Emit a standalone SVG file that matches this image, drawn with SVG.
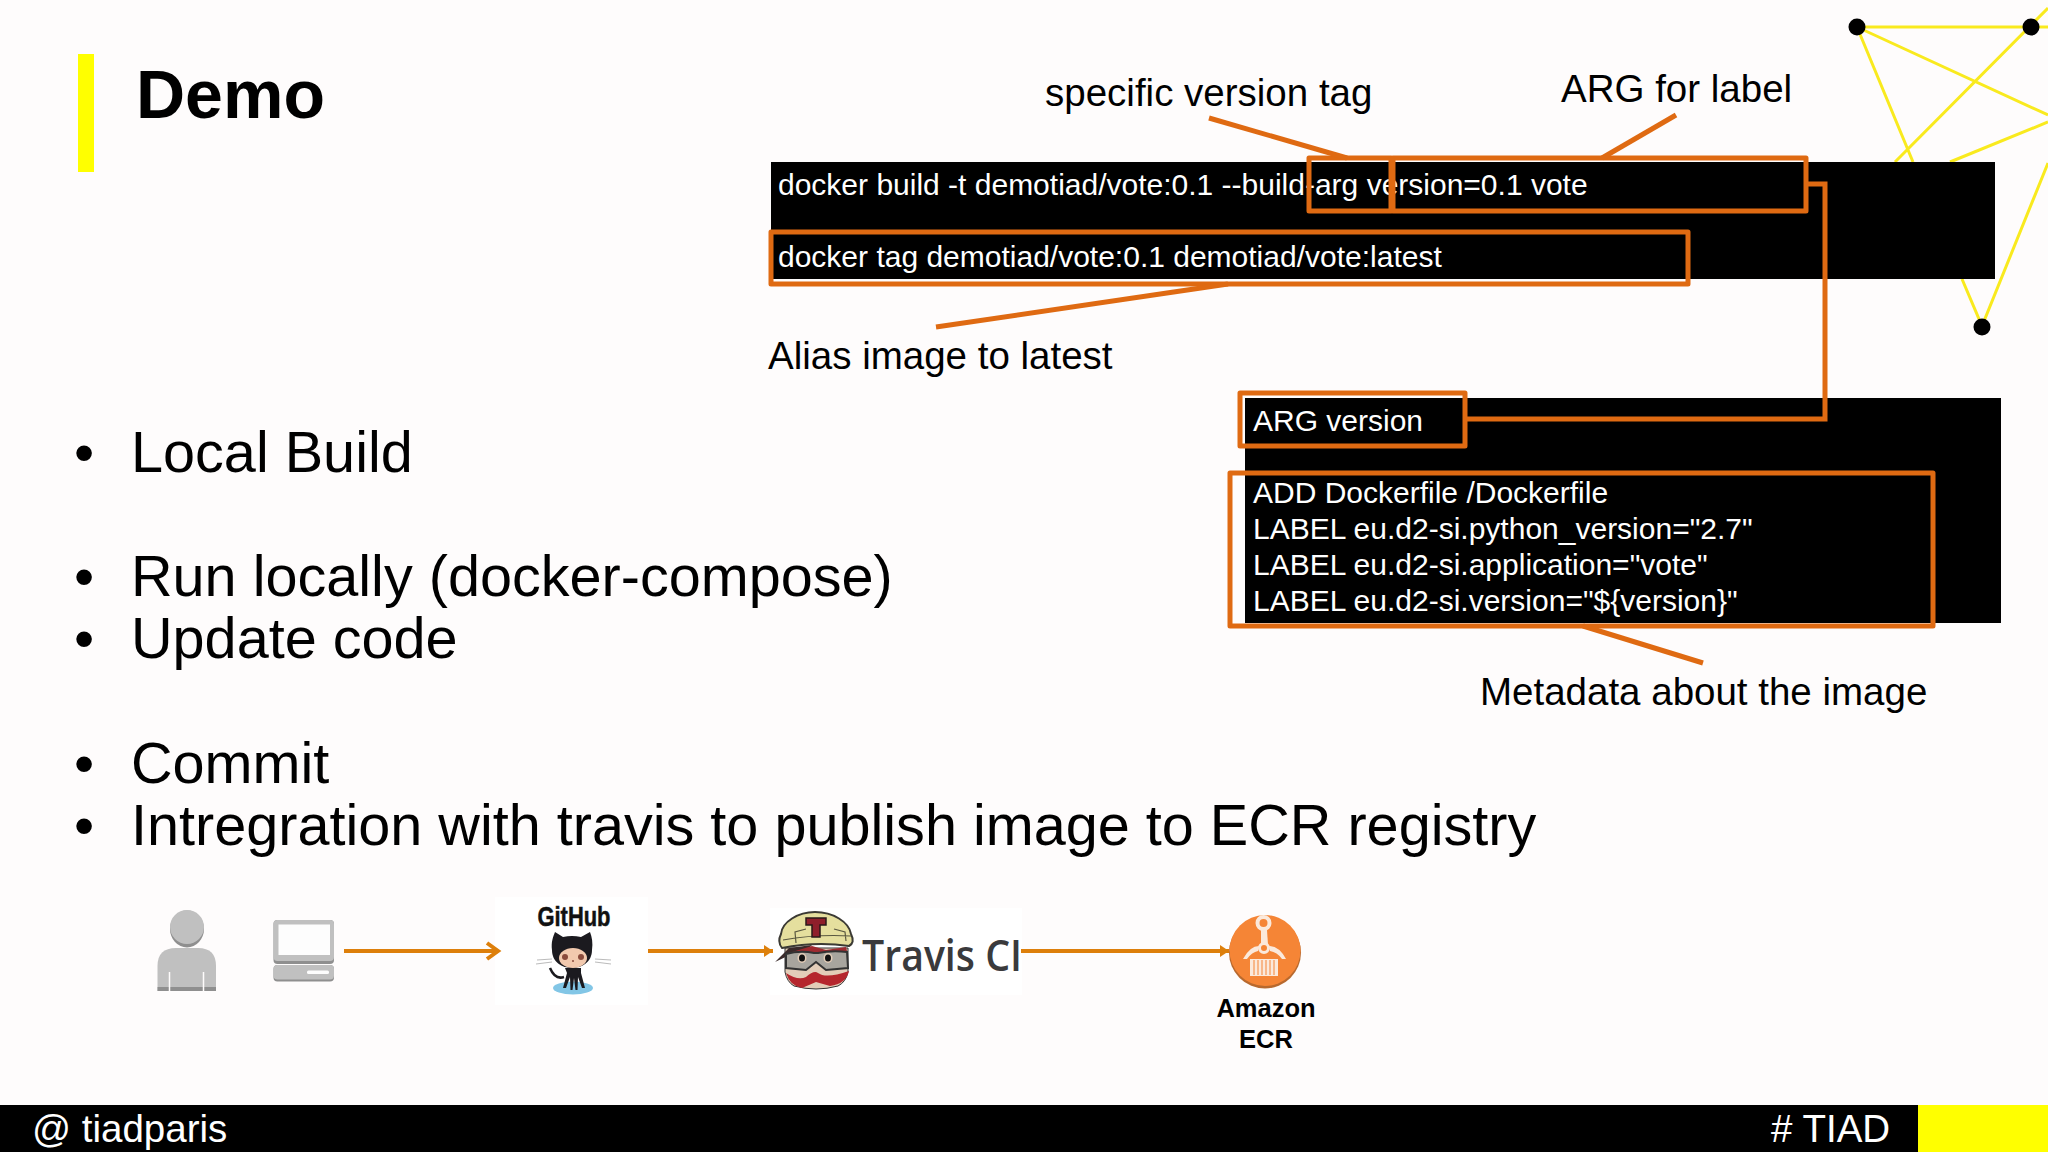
<svg xmlns="http://www.w3.org/2000/svg" width="2048" height="1152" viewBox="0 0 2048 1152">
<defs>
<style>
text{font-family:"Liberation Sans",Arial,sans-serif}
.t{font-size:38.500px;fill:#000}
.c{font-size:30px;fill:#fff}
.b{font-size:57.600px;fill:#000}
.f{font-size:38.500px;fill:#fff}
.box{fill:none;stroke:#df6a12;stroke-width:5;stroke-linejoin:round}
.lead{fill:none;stroke:#df6a12;stroke-width:5}
.y{stroke:#f9ea1e;stroke-width:3;fill:none}
.flow{stroke:#dd7f0b;stroke-width:4;fill:none}
.grey{fill:#c0c0c0}
.dgrey{fill:#8f8f8f}
</style>
<marker id="open" markerUnits="userSpaceOnUse" markerWidth="20" markerHeight="22" refX="14" refY="10" orient="auto"><path d="M3 2L14 10L3 18" fill="none" stroke="#dd7f0b" stroke-width="4"/></marker>
<marker id="solid" markerUnits="userSpaceOnUse" markerWidth="10" markerHeight="14" refX="9" refY="6" orient="auto"><path d="M0 0L9 6L0 12Z" fill="#dd7f0b"/></marker>
</defs>
<rect width="2048" height="1152" fill="#fefcfc"/>

<g id="network">
<path class="y" d="M1857 27H2048M1857 27L2048 115M1857 27L1913 162M1895 162L2048 8M1950 162L2048 122M1962 279L1982 326L2048 163"/>
<circle cx="1857" cy="27" r="8.500"/><circle cx="2031" cy="27" r="8.500"/><circle cx="1982" cy="327" r="8.500"/>
</g>

<g id="title">
<rect x="78" y="54" width="16" height="118" fill="#ffff00"/>
<text x="136" y="118" font-size="68" font-weight="700" fill="#000">Demo</text>
</g>

<g id="bullets">
<text class="b" x="74" y="472">•</text><text class="b" x="131" y="472">Local Build</text>
<text class="b" x="74" y="596">•</text><text class="b" x="131" y="596">Run locally (docker-compose)</text>
<text class="b" x="74" y="658">•</text><text class="b" x="131" y="658">Update code</text>
<text class="b" x="74" y="783">•</text><text class="b" x="131" y="783">Commit</text>
<text class="b" x="74" y="845">•</text><text class="b" x="131" y="845">Intregration with travis to publish image to ECR registry</text>
</g>

<g id="build-commands">
<rect x="771" y="162" width="1224" height="117" fill="#000"/>
<text class="c" x="778" y="195">docker build -t demotiad/vote:0.1 --build-arg version=0.1 vote</text>
<text class="c" x="778" y="267">docker tag demotiad/vote:0.1 demotiad/vote:latest</text>
</g>

<g id="dockerfile">
<rect x="1245" y="398" width="756" height="225" fill="#000"/>
<text class="c" x="1253" y="431">ARG version</text>
<text class="c" x="1253" y="503">ADD Dockerfile /Dockerfile</text>
<text class="c" x="1253" y="539">LABEL eu.d2-si.python_version="2.7"</text>
<text class="c" x="1253" y="575">LABEL eu.d2-si.application="vote"</text>
<text class="c" x="1253" y="611">LABEL eu.d2-si.version="${version}"</text>
</g>

<g id="highlights">
<rect class="box" x="1309" y="158" width="82" height="53"/>
<rect class="box" x="1393" y="158" width="413" height="53"/>
<rect class="box" x="771" y="232" width="917" height="52"/>
<rect class="box" x="1240" y="393" width="225" height="53"/>
<rect class="box" x="1230" y="473" width="703" height="153"/>
</g>

<g id="annotations">
<text class="t" x="1045" y="106">specific version tag</text>
<text class="t" x="1561" y="102">ARG for label</text>
<text class="t" x="768" y="369">Alias image to latest</text>
<text class="t" x="1480" y="705">Metadata about the image</text>
</g>

<g id="user">
<ellipse class="dgrey" cx="187" cy="929" rx="17" ry="18.500"/>
<ellipse class="grey" cx="187" cy="927" rx="17" ry="17"/>
<path class="grey" d="M157.500 991V966Q157.500 948 176 948H198Q216 948 216 966V991Z"/>
<rect class="dgrey" x="157.500" y="987" width="58.500" height="4"/>
<path d="M169.500 972v19M203.500 972v19" stroke="#fefcfc" stroke-width="1.500"/>
</g>

<g id="computer">
<rect class="dgrey" x="273.500" y="920" width="60.500" height="44" rx="4"/>
<rect class="grey" x="273.500" y="920" width="60.500" height="41" rx="4"/>
<rect x="278.500" y="924.500" width="51.500" height="30.500" fill="#fdfdfd"/>
<rect class="dgrey" x="273.500" y="965" width="60.500" height="16.500" rx="4"/>
<rect class="grey" x="273.500" y="965" width="60.500" height="14.500" rx="4"/>
<rect x="307" y="970.500" width="22" height="3.500" rx="1.500" fill="#fdfdfd"/>
</g>

<g id="github">
<rect x="495" y="897" width="153" height="108" fill="#fff"/>
<text x="574" y="926" font-size="27" font-weight="700" text-anchor="middle" textLength="73" lengthAdjust="spacingAndGlyphs" fill="#111" stroke="#111" stroke-width=".5">GitHub</text>
<ellipse cx="573" cy="988" rx="20" ry="6.500" fill="#82c6e6"/>
<path d="M537 960L552 959M536 964L552 962M595 959L611 960M595 962L611 964" stroke="#bbb" stroke-width="1"/>
<path d="M550 968Q555 980 564 977" stroke="#1b1a1f" stroke-width="2.500" fill="none"/>
<path d="M552 950C551 942 553 937 555 932L563 937Q572 935 581 937L590 932C592 937 593 943 592 950C592 962 582 968 572 968C562 968 552 962 552 950Z" fill="#1b1a1f"/>
<ellipse cx="573" cy="958" rx="14" ry="10" fill="#f2c9ae"/>
<circle cx="565" cy="957" r="3" fill="#8a4b3c"/><circle cx="581" cy="957" r="3" fill="#8a4b3c"/>
<circle cx="573" cy="961" r="1" fill="#8a4b3c"/>
<path d="M565 968h16v5l4 15h-3l-4-11-.5 13h-2l-1.500-12-1.500 12h-2l-.5-13-4 11h-3l4-15Z" fill="#1b1a1f"/>
</g>

<g id="travis">
<rect x="770" y="908" width="252" height="87" fill="#fff"/>
<path d="M785 948H848V972Q846 982 838 986Q816 992 794 986Q787 982 785 972Z" fill="#e3cdb8" stroke="#333" stroke-width="1"/>
<path d="M782 948C778 943 779 938 781 934C782 922 798 912 815 912C833 912 849 922 851 934C854 940 853 944 849 946Q816 941 782 948Z" fill="#e5df9e" stroke="#3b3a34" stroke-width="2"/>
<path d="M796 943L795 932L806 929M834 929L845 932L846 941M783 940Q816 934 851 936" fill="none" stroke="#5a5840" stroke-width="1.200"/>
<path d="M806 918H826V925H820V937H812V925H806Z" fill="#8f1f2b" stroke="#2a1a1a" stroke-width="1.500"/>
<path d="M775 962L789 948L812 945L806 951L794 953Z" fill="#3a2a2a"/>
<path d="M792 952L812 946L826 950L846 947L847 951L815 953Z" fill="#9e2a30"/>
<path d="M786 954Q800 950 814 953L818 953Q832 950 847 952L848 968L826 970L816 962L806 970L786 968Z" fill="#a8a59e" stroke="#333" stroke-width="2"/>
<ellipse cx="802" cy="958" rx="4.500" ry="5" fill="#e3cdb8"/><ellipse cx="828" cy="958" rx="4.500" ry="5" fill="#e3cdb8"/>
<ellipse cx="802" cy="958" rx="3" ry="3.500" fill="#111"/><ellipse cx="828" cy="958" rx="3" ry="3.500" fill="#111"/>
<path d="M786 973Q798 981 806 977Q814 970 818 973Q826 979 849 971Q846 984 830 986L816 982L802 988Q790 986 786 973Z" fill="#b5262d"/>
<text x="862" y="971" font-size="44" font-weight="600" fill="#3a3a3c" style="font-family:'Open Sans','Liberation Sans',sans-serif" textLength="160" lengthAdjust="spacingAndGlyphs">Travis CI</text>
</g>

<g id="ecr">
<circle cx="1265" cy="952.500" r="36" fill="#b8692e"/>
<circle cx="1265" cy="950.500" r="35.500" fill="#f58536"/>
<circle cx="1263.500" cy="923" r="6" fill="none" stroke="#fbe9db" stroke-width="4"/>
<path d="M1261 930H1267L1268 945H1261Z" fill="#fbe9db"/>
<circle cx="1264" cy="948" r="4.500" fill="none" stroke="#fbe9db" stroke-width="3"/>
<path d="M1243 959Q1250 946 1259 946L1258 951Q1252 952 1247 959Z" fill="#fbe9db"/>
<path d="M1286 959Q1279 946 1269 946L1270 951Q1277 952 1282 959Z" fill="#fbe9db"/>
<rect x="1250" y="959" width="28" height="17" fill="#fbe9db"/>
<path d="M1254 960v15M1258 960v15M1262 960v15M1266 960v15M1270 960v15M1274 960v15" stroke="#f58536" stroke-width="1"/>
<text x="1266" y="1017" font-size="25.500" font-weight="700" text-anchor="middle" fill="#000">Amazon</text>
<text x="1266" y="1048" font-size="25.500" font-weight="700" text-anchor="middle" fill="#000">ECR</text>
</g>

<g id="connectors">
<path class="lead" d="M1209 118L1347 158"/>
<path class="lead" d="M1676 115L1602 158"/>
<path class="lead" d="M936 327L1228 284"/>
<path class="lead" d="M1583 626L1703 663"/>
<path class="lead" d="M1806 184H1825V419H1465"/>
<path class="flow" d="M344 951H498" marker-end="url(#open)"/>
<path class="flow" d="M648 951H773" marker-end="url(#solid)"/>
<path class="flow" d="M1021 951H1229" marker-end="url(#solid)"/>
</g>

<g id="footer">
<rect y="1105" width="2048" height="47" fill="#000"/>
<rect x="1918" y="1105" width="130" height="47" fill="#ffff00"/>
<text class="f" x="32" y="1142">@ tiadparis</text>
<text class="f" x="1771" y="1142"># TIAD</text>
</g>
</svg>
